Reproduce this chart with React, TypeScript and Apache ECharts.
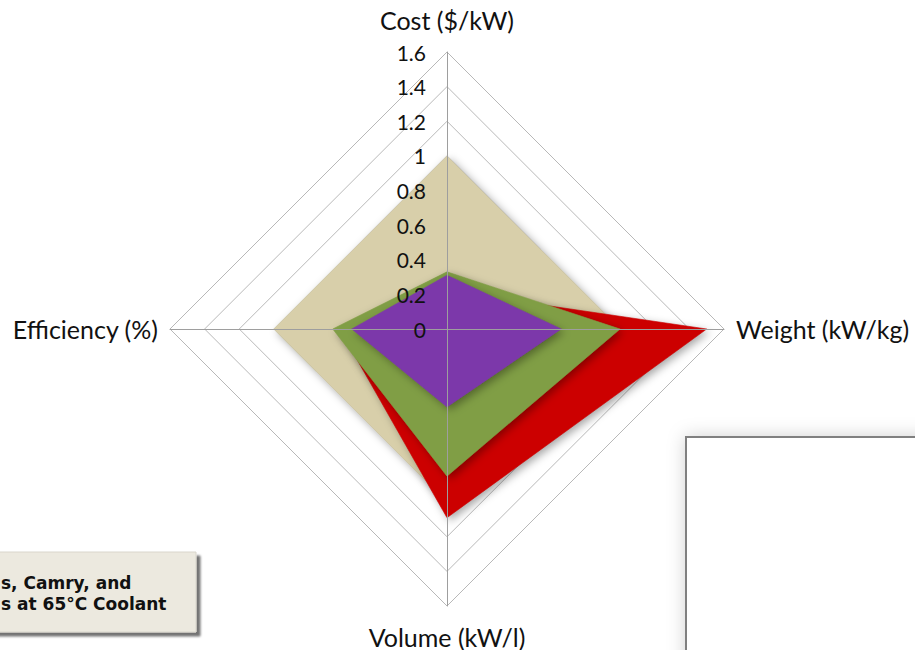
import React, { useEffect, useRef } from "react";
import * as echarts from "echarts";

// Indicators listed counter-clockwise from the top (ECharts radar order)
const indicatorNames = ["Cost ($/kW)", "Efficiency (%)", "Volume (kW/l)", "Weight (kW/kg)"];
const axisMax = 1.6;
const splitCount = 8;

const seriesNames = ["Target", "LS 600h", "Camry", "Prius"];
const targetValues = [1.0, 1.0, 1.0, 1.0];
const ls600hValues = [0.22, 0.62, 1.09, 1.5];
const camryValues = [0.33, 0.66, 0.85, 1.0];
const priusValues = [0.31, 0.55, 0.45, 0.66];
const seriesColors = ["#D8CFAA", "#CC0000", "#809E45", "#7C38AA"];

const noteLines = ["s, Camry, and", "s at 65°C Coolant"];

export default function App() {
  const ref = useRef<HTMLDivElement>(null);
  useEffect(() => {
    if (!ref.current) return;
    const chart = echarts.init(ref.current, null, { renderer: "svg" });
    const center = [447, 329];
    const radius = 277;
    const gaps = [20, 12, 18, 12];
    const values = [targetValues, ls600hValues, camryValues, priusValues];
    chart.setOption({
      animation: false,
      backgroundColor: "#ffffff",
      radar: [
        {
          center,
          radius,
          startAngle: 90,
          shape: "polygon",
          splitNumber: splitCount,
          z: 0,
          indicator: indicatorNames.map((n, i) => ({ name: n, min: 0, max: axisMax, nameGap: gaps[i] })),
          axisName: { color: "#111", fontFamily: "Lato", fontSize: 25 },
          nameGap: 14,
          splitLine: { lineStyle: { color: "#B8B8B8", width: 1 } },
          splitArea: { show: false },
          axisLine: { show: false },
          axisTick: { show: false },
          axisLabel: { show: false },
        },
        {
          center,
          radius,
          startAngle: 90,
          shape: "polygon",
          splitNumber: splitCount,
          z: 5,
          indicator: indicatorNames.map((n, i) => ({
            name: n,
            min: 0,
            max: axisMax,
            axisLabel: i === 0 ? { show: true } : { show: false },
          })),
          axisName: { show: false },
          splitLine: { show: false },
          splitArea: { show: false },
          axisLine: { show: true, lineStyle: { color: "#9E9E9E", width: 1 } },
          axisTick: { show: false },
          axisLabel: { show: false, color: "#111", fontFamily: "Lato", fontSize: 21, margin: 21, showMinLabel: true, showMaxLabel: true },
        },
      ],
      series: [
        {
          type: "radar",
          radarIndex: 0,
          symbol: "none",
          z: 2,
          data: values.map((v, i) => ({
            name: seriesNames[i],
            value: v,
            lineStyle: { color: seriesColors[i], width: 1, opacity: 0.6 },
            areaStyle: {
              color: seriesColors[i],
              opacity: 1,
              shadowColor: "rgba(0,0,0,0.35)",
              shadowBlur: 8,
              shadowOffsetX: 3,
              shadowOffsetY: 3,
            },
          })),
        },
      ],
      graphic: [
        {
          type: "rect",
          shape: { x: -10, y: 552, width: 206, height: 80 },
          style: {
            fill: "#ECE9DF",
            stroke: "#D9D6CC",
            lineWidth: 1,
            shadowColor: "rgba(0,0,0,0.55)",
            shadowBlur: 2,
            shadowOffsetX: 4,
            shadowOffsetY: 4,
          },
          z: 10,
        },
        {
          type: "text",
          x: 1,
          y: 572,
          style: {
            text: noteLines.join("\n"),
            fill: "#111",
            font: "bold 17px 'DejaVu Sans'",
            lineHeight: 21,
            textAlign: "left",
          },
          z: 11,
        },
        {
          type: "rect",
          shape: { x: 686, y: 437, width: 260, height: 240 },
          style: {
            fill: "#ffffff",
            stroke: "#808080",
            lineWidth: 2,
            shadowColor: "rgba(0,0,0,0.18)",
            shadowBlur: 18,
          },
          z: 10,
        },
      ],
    });
    return () => chart.dispose();
  }, []);
  return <div ref={ref} style={{ position: "fixed", left: 0, top: 0, width: 915, height: 650 }} />;
}
